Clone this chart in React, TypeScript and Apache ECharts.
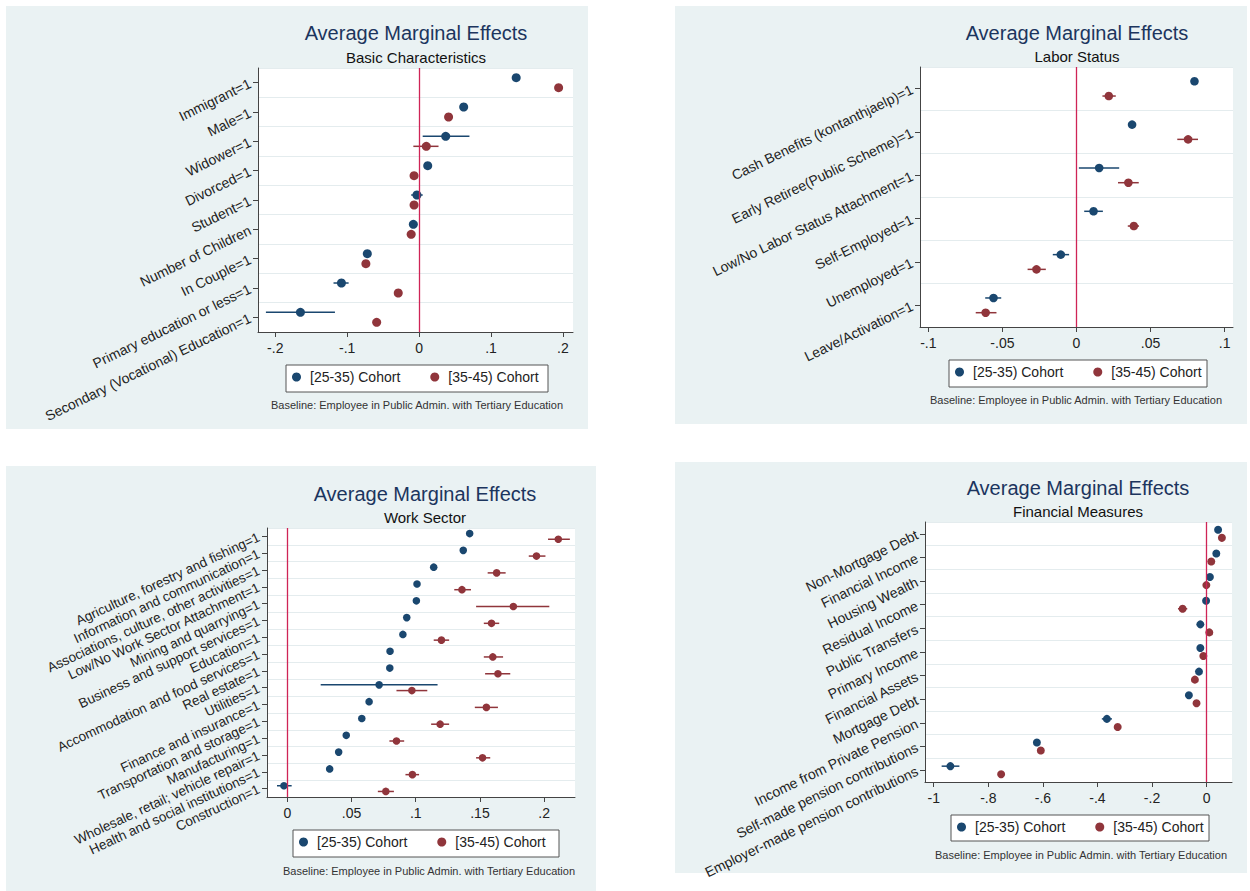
import React, { useEffect, useRef } from "react";
import * as echarts from "echarts";

const FONT = "'Liberation Sans', Arial, sans-serif";
const BLUE = "#1a476f";
const RED = "#90353b";
const ZERO = "#cf2456";
const YOUNG = "[25-35) Cohort";
const OLD = "[35-45) Cohort";
const MAIN_TITLE = "Average Marginal Effects";
const NOTE = "Baseline: Employee in Public Admin. with Tertiary Education";

// ---- Panel 1: Basic Characteristics ----
const basicCats = [
  "Immigrant=1", "Male=1", "Widower=1", "Divorced=1", "Student=1",
  "Number of Children", "In Couple=1", "Primary education or less=1",
  "Secondary (Vocational) Education=1",
];
const basicYoung = [0.135, 0.062, 0.037, 0.012, -0.003, -0.008, -0.072, -0.108, -0.165];
const basicYoungLo = [null, null, 0.005, null, -0.011, null, null, -0.119, -0.213];
const basicYoungHi = [null, null, 0.070, null, 0.005, null, null, -0.098, -0.117];
const basicOld = [0.194, 0.041, 0.010, -0.007, -0.007, -0.011, -0.074, -0.029, -0.059];
const basicOldLo = [null, null, -0.008, null, null, null, null, null, null];
const basicOldHi = [null, null, 0.027, null, null, null, null, null, null];
const basicTicks = [-0.2, -0.1, 0, 0.1, 0.2];

// ---- Panel 2: Labor Status ----
const laborCats = [
  "Cash Benefits (kontanthjaelp)=1", "Early Retiree(Public Scheme)=1",
  "Low/No Labor Status Attachment=1", "Self-Employed=1", "Unemployed=1",
  "Leave/Activation=1",
];
const laborYoung = [0.0796, 0.0375, 0.0153, 0.0115, -0.0106, -0.056];
const laborYoungLo = [null, null, 0.0016, 0.0052, -0.016, -0.0616];
const laborYoungHi = [null, null, 0.0288, 0.0178, -0.005, -0.0508];
const laborOld = [0.0218, 0.0753, 0.035, 0.0387, -0.027, -0.0613];
const laborOldLo = [0.0175, 0.068, 0.028, 0.0346, -0.033, -0.068];
const laborOldHi = [0.0265, 0.082, 0.042, 0.0422, -0.0207, -0.054];
const laborTicks = [-0.1, -0.05, 0, 0.05, 0.1];

// ---- Panel 3: Work Sector ----
const sectorCats = [
  "Agriculture, forestry and fishing=1", "Information and communication=1",
  "Associations, culture, other activities=1", "Low/No Work Sector Attachment=1",
  "Mining and quarrying=1", "Business and support services=1", "Education=1",
  "Accommodation and food services=1", "Real estate=1", "Utilities=1",
  "Finance and insurance=1", "Transportation and storage=1", "Manufacturing=1",
  "Wholesale, retail; vehicle repair=1", "Health and social institutions=1",
  "Construction=1",
];
const sectorYoung = [0.142, 0.137, 0.114, 0.101, 0.1005, 0.093, 0.090, 0.080, 0.0798, 0.0715, 0.0637, 0.058, 0.0459, 0.040, 0.033, -0.0026];
const sectorYoungLo = [null, null, null, null, null, null, null, null, null, 0.026, null, null, null, null, null, -0.008];
const sectorYoungHi = [null, null, null, null, null, null, null, null, null, 0.117, null, null, null, null, null, 0.0034];
const sectorOld = [0.211, 0.194, 0.163, 0.136, 0.176, 0.159, 0.120, 0.160, 0.164, 0.097, 0.155, 0.119, 0.085, 0.152, 0.0974, 0.0767];
const sectorOldLo = [0.203, 0.188, 0.156, 0.130, 0.147, 0.153, 0.114, 0.153, 0.154, 0.085, 0.146, 0.112, 0.0795, 0.147, 0.092, 0.0705];
const sectorOldHi = [0.220, 0.201, 0.170, 0.143, 0.204, 0.165, 0.126, 0.168, 0.1736, 0.109, 0.164, 0.126, 0.091, 0.158, 0.1026, 0.083];
const sectorTicks = [0, 0.05, 0.1, 0.15, 0.2];

// ---- Panel 4: Financial Measures ----
const finCats = [
  "Non-Mortgage Debt", "Financial Income", "Housing Wealth", "Residual Income",
  "Public Transfers", "Primary Income", "Financial Assets", "Mortgage Debt",
  "Income from Private Pension", "Self-made pension contributions",
  "Employer-made pension contributions",
];
const finYoung = [0.042, 0.0355, 0.012, -0.002, -0.023, -0.023, -0.028, -0.065, -0.3655, -0.622, -0.939];
const finYoungLo = [null, null, null, null, null, null, null, null, -0.384, null, -0.971];
const finYoungHi = [null, null, null, null, null, null, null, null, -0.347, null, -0.906];
const finOld = [0.056, 0.017, -0.001, -0.088, 0.0098, -0.012, -0.043, -0.037, -0.326, -0.6076, -0.753];
const finOldLo = [null, null, null, -0.105, null, null, null, null, null, null, null];
const finOldHi = [null, null, null, -0.071, null, null, null, null, null, null, null];
const finTicks = [-1, -0.8, -0.6, -0.4, -0.2, 0];

type Panel = {
  subtitle: string;
  cats: string[];
  young: number[]; youngLo: (number | null)[]; youngHi: (number | null)[];
  old: number[]; oldLo: (number | null)[]; oldHi: (number | null)[];
  ticks: number[];
  min: number; max: number;
  grid: { left: number; top: number; width: number; height: number };
  bg: [number, number, number, number];
  titleX: number; titleY: number; subY: number;
  legendBox: [number, number, number, number];
  noteX: number; noteY: number;
  labelSize: number; rotate: number; radius: number;
};

const panels: Panel[] = [
  {
    subtitle: "Basic Characteristics", cats: basicCats,
    young: basicYoung, youngLo: basicYoungLo, youngHi: basicYoungHi,
    old: basicOld, oldLo: basicOldLo, oldHi: basicOldHi,
    ticks: basicTicks, min: -0.224, max: 0.214,
    grid: { left: 258, top: 68, width: 315, height: 264 },
    bg: [6, 6, 582, 423], titleX: 416, titleY: 33, subY: 57,
    legendBox: [286, 365, 262, 27], noteX: 417, noteY: 405,
    labelSize: 14, rotate: 26, radius: 4.5,
  },
  {
    subtitle: "Labor Status", cats: laborCats,
    young: laborYoung, youngLo: laborYoungLo, youngHi: laborYoungHi,
    old: laborOld, oldLo: laborOldLo, oldHi: laborOldHi,
    ticks: laborTicks, min: -0.1056, max: 0.1056,
    grid: { left: 920, top: 67, width: 313, height: 260 },
    bg: [675, 6, 572, 418], titleX: 1077, titleY: 33, subY: 56,
    legendBox: [949, 360, 258, 27], noteX: 1076, noteY: 400,
    labelSize: 14, rotate: 26, radius: 4.3,
  },
  {
    subtitle: "Work Sector", cats: sectorCats,
    young: sectorYoung, youngLo: sectorYoungLo, youngHi: sectorYoungHi,
    old: sectorOld, oldLo: sectorOldLo, oldHi: sectorOldHi,
    ticks: sectorTicks, min: -0.0158, max: 0.224,
    grid: { left: 267, top: 528, width: 308, height: 269 },
    bg: [6, 466, 590, 425], titleX: 425, titleY: 494, subY: 517,
    legendBox: [293, 830, 266, 27], noteX: 429, noteY: 871,
    labelSize: 13.5, rotate: 25, radius: 3.8,
  },
  {
    subtitle: "Financial Measures", cats: finCats,
    young: finYoung, youngLo: finYoungLo, youngHi: finYoungHi,
    old: finOld, oldLo: finOldLo, oldHi: finOldHi,
    ticks: finTicks, min: -1.032, max: 0.093,
    grid: { left: 925, top: 522, width: 307, height: 260 },
    bg: [675, 462, 572, 411], titleX: 1078, titleY: 488, subY: 511,
    legendBox: [951, 815, 258, 26], noteX: 1081, noteY: 855,
    labelSize: 14, rotate: 26, radius: 4,
  },
];

const fmtTick = (v: number) => {
  if (v === 0) return "0";
  const s = String(Math.round(v * 1000) / 1000);
  return s.replace("0.", ".");
};

function makeRender(sign: number, color: string, r: number) {
  return (params: any, api: any) => {
    const v = api.value(0);
    const c = api.value(1);
    const lo = api.value(2);
    const hi = api.value(3);
    const p = api.coord([v, c]);
    const band = api.size([0, 1])[1];
    const y = p[1] + sign * band * 0.17;
    const children: any[] = [];
    if (lo != null && hi != null && !isNaN(lo) && !isNaN(hi)) {
      const a = api.coord([lo, c]);
      const b = api.coord([hi, c]);
      children.push({
        type: "line",
        shape: { x1: a[0], y1: y, x2: b[0], y2: y },
        style: { stroke: color, lineWidth: 1.5 },
      });
    }
    children.push({ type: "circle", shape: { cx: p[0], cy: y, r }, style: { fill: color } });
    return { type: "group", children };
  };
}

function buildOption() {
  const grid: any[] = [];
  const xAxis: any[] = [];
  const yAxis: any[] = [];
  const series: any[] = [];
  const legend: any[] = [];
  const graphic: any[] = [];

  panels.forEach((pn, i) => {
    graphic.push({
      type: "rect", z: -10, silent: true,
      shape: { x: pn.bg[0], y: pn.bg[1], width: pn.bg[2], height: pn.bg[3] },
      style: { fill: "#eaf2f3" },
    });
    graphic.push({
      type: "rect", z: -5, silent: true,
      shape: { x: pn.legendBox[0], y: pn.legendBox[1], width: pn.legendBox[2], height: pn.legendBox[3] },
      style: { fill: "#ffffff", stroke: "#555555", lineWidth: 1 },
    });
    graphic.push({
      type: "text", silent: true, x: pn.titleX, y: pn.titleY,
      style: { text: MAIN_TITLE, font: `20px ${FONT}`, fill: "#1c355e", align: "center", verticalAlign: "middle", textAlign: "center", textVerticalAlign: "middle" },
    });
    graphic.push({
      type: "text", silent: true, x: pn.titleX, y: pn.subY,
      style: { text: pn.subtitle, font: `15px ${FONT}`, fill: "#111111", align: "center", verticalAlign: "middle", textAlign: "center", textVerticalAlign: "middle" },
    });
    graphic.push({
      type: "text", silent: true, x: pn.noteX, y: pn.noteY,
      style: { text: NOTE, font: `11px ${FONT}`, fill: "#333333", align: "center", verticalAlign: "middle", textAlign: "center", textVerticalAlign: "middle" },
    });

    grid.push({
      ...pn.grid, show: true, backgroundColor: "#ffffff", borderWidth: 0,
      containLabel: false, outerBoundsMode: "none",
    });
    xAxis.push({
      type: "value", gridIndex: i, min: pn.min, max: pn.max,
      axisLine: { show: true, onZero: false, lineStyle: { color: "#444444", width: 1 } },
      axisTick: { show: true, length: 5, lineStyle: { color: "#444444" }, customValues: pn.ticks },
      axisLabel: { color: "#222222", fontSize: 14, fontFamily: FONT, margin: 9, customValues: pn.ticks, formatter: fmtTick },
      splitLine: { show: false },
    });
    yAxis.push({
      type: "category", gridIndex: i, data: pn.cats, inverse: true, position: "left",
      axisLine: { show: true, onZero: false, lineStyle: { color: "#444444", width: 1 } },
      axisTick: { show: true, length: 5, alignWithLabel: true, lineStyle: { color: "#444444" } },
      axisLabel: { color: "#222222", fontSize: pn.labelSize, fontFamily: FONT, rotate: pn.rotate, margin: 8, interval: 0 },
      splitLine: { show: true, lineStyle: { color: "#e4ecee", width: 1.2 } },
    });
    series.push({
      type: "custom", name: YOUNG, xAxisIndex: i, yAxisIndex: i,
      itemStyle: { color: BLUE }, z: 3,
      renderItem: makeRender(-1, BLUE, pn.radius),
      encode: { x: 0, y: 1 },
      dimensions: ["v", "cat", "lo", "hi"],
      data: pn.cats.map((_, k) => [pn.young[k], k, pn.youngLo[k] ?? NaN, pn.youngHi[k] ?? NaN]),
    });
    series.push({
      type: "custom", name: OLD, xAxisIndex: i, yAxisIndex: i,
      itemStyle: { color: RED }, z: 3,
      renderItem: makeRender(1, RED, pn.radius),
      encode: { x: 0, y: 1 },
      dimensions: ["v", "cat", "lo", "hi"],
      data: pn.cats.map((_, k) => [pn.old[k], k, pn.oldLo[k] ?? NaN, pn.oldHi[k] ?? NaN]),
    });
    series.push({
      type: "scatter", name: "zero" + i, xAxisIndex: i, yAxisIndex: i,
      symbolSize: 0, data: [[0, 0]], z: 2, silent: true,
      markLine: {
        silent: true, symbol: "none", label: { show: false },
        lineStyle: { color: ZERO, width: 1.3, type: "solid" },
        data: [{ xAxis: 0 }],
      },
    });
    legend.push({
      data: [YOUNG, OLD], orient: "horizontal",
      left: pn.legendBox[0] + 6, top: pn.legendBox[1] + 5,
      icon: "circle", itemWidth: 9, itemHeight: 9, itemGap: 30, padding: 0,
      selectedMode: false,
      textStyle: { fontSize: 14, fontFamily: FONT, color: "#222222", padding: [0, 0, 0, 4] },
    });
  });

  return {
    animation: false,
    backgroundColor: "#ffffff",
    textStyle: { fontFamily: FONT },
    grid, xAxis, yAxis, series, legend, graphic,
  };
}

export default function App() {
  const ref = useRef<HTMLDivElement>(null);
  useEffect(() => {
    if (!ref.current) return;
    const chart = echarts.init(ref.current, null, { renderer: "svg" });
    chart.setOption(buildOption() as any);
    return () => chart.dispose();
  }, []);
  return (
    <div
      ref={ref}
      style={{ position: "absolute", left: 0, top: 0, width: 1250, height: 891, background: "#ffffff" }}
    />
  );
}
